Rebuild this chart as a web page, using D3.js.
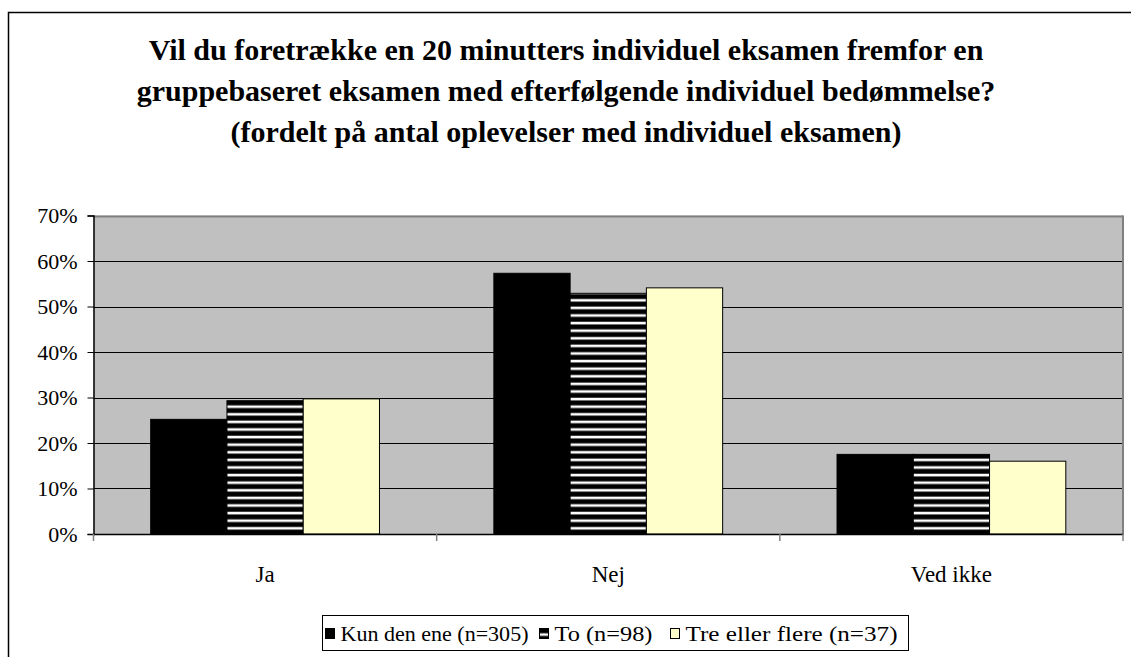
<!DOCTYPE html>
<html>
<head>
<meta charset="utf-8">
<script src="https://cdn.jsdelivr.net/npm/d3@7"></script>
<style>
  html, body { margin: 0; padding: 0; background: #fff; }
  svg { display: block; }
  svg text { font-family: "Liberation Serif", "Times New Roman", Times, serif; }
</style>
</head>
<body>
<div id="chart"></div>
<script>
// data
var categories = ["Ja", "Nej", "Ved ikke"];
var seriesNames = ["Kun den ene (n=305)", "To (n=98)", "Tre eller flere (n=37)"];
var kunDenEne = [0.252, 0.573, 0.175];
var to = [0.293, 0.529, 0.175];
var treEllerFlere = [0.297, 0.541, 0.160];
var yTicks = [0, 0.1, 0.2, 0.3, 0.4, 0.5, 0.6, 0.7];
var titleLines = [
  "Vil du foretrække en 20 minutters individuel eksamen fremfor en",
  "gruppebaseret eksamen med efterfølgende individuel bedømmelse?",
  "(fordelt på antal oplevelser med individuel eksamen)"
];

var width = 1131, height = 657;
var plot = {left: 93.5, top: 215.5, right: 1123, bottom: 534};

var svg = d3.select("#chart").append("svg")
    .attr("width", width).attr("height", height);

// stripe pattern for series 2
var defs = svg.append("defs");
var pat = defs.append("pattern")
    .attr("id", "stripes")
    .attr("patternUnits", "userSpaceOnUse")
    .attr("width", 8).attr("height", 7.6);
pat.append("rect").attr("width", 8).attr("height", 7.6).attr("fill", "#000");
pat.append("rect").attr("y", 2.6).attr("width", 8).attr("height", 2.6).attr("fill", "#fff");

var fills = ["#000000", "url(#stripes)", "#ffffcc"];

// outer chart border (cropped at right/bottom)
svg.append("rect")
    .attr("x", 8.5).attr("y", 12.5)
    .attr("width", width + 20).attr("height", height + 20)
    .attr("fill", "none").attr("stroke", "#000").attr("stroke-width", 1.5);

// title
svg.append("g").selectAll("text")
    .data(titleLines)
    .enter().append("text")
    .attr("x", 566)
    .attr("y", function(d, i) { return 60 + i * 41; })
    .attr("text-anchor", "middle")
    .attr("font-size", "30px")
    .attr("font-weight", "bold")
    .text(function(d) { return d; });

var x0 = d3.scaleBand()
    .domain(categories)
    .range([plot.left, plot.right])
    .paddingInner(0).paddingOuter(0);

var barW = x0.bandwidth() / 4.5;
var x1 = d3.scaleBand()
    .domain(d3.range(seriesNames.length))
    .range([0, barW * 3]);

var y = d3.scaleLinear()
    .domain([0, 0.7])
    .range([plot.bottom, plot.top]);

// plot background
svg.append("rect")
    .attr("x", plot.left).attr("y", plot.top)
    .attr("width", plot.right - plot.left).attr("height", plot.bottom - plot.top)
    .attr("fill", "#c0c0c0");

// gridlines
svg.append("g").selectAll("line")
    .data(yTicks.slice(1))
    .enter().append("line")
    .attr("x1", plot.left).attr("x2", plot.right)
    .attr("y1", function(d) { return Math.round(y(d)) + 0.5; })
    .attr("y2", function(d) { return Math.round(y(d)) + 0.5; })
    .attr("stroke", function(d) { return d === 0.7 ? "#808080" : "#000"; })
    .attr("stroke-width", function(d) { return d === 0.7 ? 2 : 1; });

// right border of plot
svg.append("line")
    .attr("x1", plot.right).attr("x2", plot.right)
    .attr("y1", plot.top).attr("y2", plot.bottom)
    .attr("stroke", "#808080").attr("stroke-width", 2);

// bars
var rows = categories.map(function(c, i) {
  return {cat: c, values: [kunDenEne[i], to[i], treEllerFlere[i]]};
});

var groups = svg.append("g").selectAll("g")
    .data(rows)
    .enter().append("g")
    .attr("transform", function(d) {
      return "translate(" + (x0(d.cat) + barW * 0.75) + ",0)";
    });

groups.selectAll("rect")
    .data(function(d) { return d.values; })
    .enter().append("rect")
    .attr("x", function(d, i) { return x1(i); })
    .attr("y", function(d) { return y(d); })
    .attr("width", x1.bandwidth())
    .attr("height", function(d) { return y(0) - y(d); })
    .attr("fill", function(d, i) { return fills[i]; })
    .attr("stroke", "#000")
    .attr("stroke-width", 1);

// y axis
var yAxis = d3.axisLeft(y)
    .tickValues(yTicks)
    .tickFormat(d3.format(".0%"))
    .tickSize(6)
    .tickPadding(10);

var gy = svg.append("g")
    .attr("transform", "translate(" + plot.left + ",0)")
    .call(yAxis);
gy.select(".domain").attr("stroke", "#000").attr("stroke-width", 1.5);
gy.selectAll(".tick line").attr("stroke", "#000");
gy.selectAll("text")
    .attr("font-size", "22px")
    .attr("dy", "0.34em")
    .attr("fill", "#000");

// x axis
var xAxis = d3.axisBottom(x0).tickSize(0).tickPadding(0);
var gx = svg.append("g")
    .attr("transform", "translate(0," + plot.bottom + ")")
    .call(xAxis);
gx.select(".domain").attr("stroke", "#000").attr("stroke-width", 1.5);
gx.selectAll("text")
    .attr("y", 48)
    .attr("dy", 0)
    .attr("font-size", "23px")
    .attr("fill", "#000");

// category separator ticks
var sepTicks = categories.map(function(c) { return x0(c); }).concat([plot.right]);
gx.append("g").selectAll("line")
    .data(sepTicks)
    .enter().append("line")
    .attr("x1", function(d) { return d; }).attr("x2", function(d) { return d; })
    .attr("y1", 0).attr("y2", 7)
    .attr("stroke", "#808080").attr("stroke-width", 1.5);

// legend
var legend = svg.append("g").attr("transform", "translate(322.5,615.5)");
legend.append("rect")
    .attr("width", 586).attr("height", 35)
    .attr("fill", "#fff").attr("stroke", "#000").attr("stroke-width", 1);

var legendX = [3, 217, 348];
var legendTextW = [188, 98, 212];
var items = legend.selectAll("g.item")
    .data(seriesNames)
    .enter().append("g")
    .attr("class", "item")
    .attr("transform", function(d, i) { return "translate(" + legendX[i] + ",0)"; });

items.append("rect")
    .attr("x", 0).attr("y", 13)
    .attr("width", 9).attr("height", 10)
    .attr("fill", function(d, i) { return fills[i]; })
    .attr("stroke", "#000").attr("stroke-width", 1);

items.append("text")
    .attr("x", 15).attr("y", 25)
    .attr("font-size", "21px")
    .attr("textLength", function(d, i) { return legendTextW[i]; })
    .attr("lengthAdjust", "spacingAndGlyphs")
    .text(function(d) { return d; });
</script>
</body>
</html>
